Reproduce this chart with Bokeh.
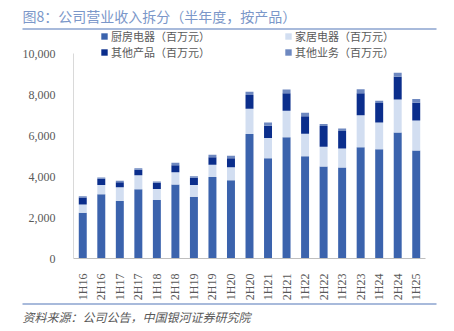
from bokeh.plotting import figure
from bokeh.models import (Range1d, NumeralTickFormatter, Label, Legend,
                          LegendItem, BoxAnnotation, FixedTicker)
from bokeh.embed import file_html
from bokeh.resources import INLINE
import math

periods = ["1H16", "2H16", "1H17", "2H17", "1H18", "2H18", "1H19", "2H19", "1H20", "2H20",
           "1H21", "2H21", "1H22", "2H22", "1H23", "2H23", "1H24", "2H24", "1H25"]
kitchen = [2230, 3140, 2800, 3380, 2850, 3610, 3010, 3970, 3820, 6070,
           4890, 5920, 4990, 4490, 4440, 5430, 5335, 6150, 5270]
home = [405, 440, 680, 685, 535, 600, 570, 600, 635, 1230,
        990, 1285, 1090, 960, 930, 1560, 1300, 1610, 1465]
other_products = [340, 310, 245, 260, 310, 340, 355, 375, 440, 670,
                  590, 860, 860, 1010, 845, 1075, 945, 1105, 860]
other_business = [60, 65, 65, 80, 65, 115, 80, 115, 115, 160,
                  160, 180, 165, 100, 130, 195, 115, 195, 180]
series_names = ["厨房电器（百万元）", "家居电器（百万元）", "其他产品（百万元）", "其他业务（百万元）"]
y_ticks = [0, 2000, 4000, 6000, 8000, 10000]
title_text = "图8：公司营业收入拆分（半年度，按产品）"
source_text = "资料来源：公司公告，中国银河证券研究院"

colors = ["#3b63ad", "#d2def1", "#0b2e8c", "#6e88c0"]
keys = ["kitchen", "home", "other_products", "other_business"]
idx = list(range(len(periods)))
data = dict(x=idx, kitchen=kitchen, home=home,
            other_products=other_products, other_business=other_business)

CJK = "Noto Sans CJK SC"
SERIF = "Liberation Serif"

W, H = 454, 331
# plot area in canvas pixels
FL, FR, FT, FB = 73, 425, 53, 258
n = len(periods)
step = (FR - FL) / n
xs = -0.5 - FL / step
xe = n - 0.5 + (W - FR) / step
vpp = 10000 / (FB - FT)
ys = -(H - FB) * vpp
ye = FB * vpp

def cx(px):
    return xs + px / W * (xe - xs)

def cy(py):
    return ye - py / H * (ye - ys)

p = figure(width=W, height=H, x_range=Range1d(xs, xe), y_range=Range1d(ys, ye),
           output_backend="svg", toolbar_location=None,
           min_border=0, min_border_left=0, min_border_right=0,
           min_border_top=0, min_border_bottom=0)
p.outline_line_color = None
p.xgrid.grid_line_color = None
p.ygrid.grid_line_color = None

rs = p.vbar_stack(keys, x="x", width=0.43, source=data, color=colors, line_color=None)

p.yaxis.fixed_location = -0.5
p.yaxis.bounds = (0, 10000)
p.yaxis.ticker = FixedTicker(ticks=y_ticks)
p.yaxis.formatter = NumeralTickFormatter(format="0,0")
p.yaxis.major_tick_line_color = None
p.yaxis.minor_tick_line_color = None
p.yaxis.axis_line_color = "#d9d9d9"
p.yaxis.major_label_text_font = SERIF
p.yaxis.major_label_text_font_size = "12px"
p.yaxis.major_label_text_color = "#595959"
p.yaxis.major_label_standoff = 12

p.xaxis.fixed_location = 0
p.xaxis.bounds = (-0.5, n - 0.5)
p.xaxis.ticker = FixedTicker(ticks=idx)
p.xaxis.major_label_overrides = {i: lab for i, lab in zip(idx, periods)}
p.xaxis.major_tick_line_color = None
p.xaxis.minor_tick_line_color = None
p.xaxis.axis_line_color = "#bfbfbf"
p.xaxis.major_label_orientation = math.pi / 2
p.xaxis.major_label_text_font = SERIF
p.xaxis.major_label_text_font_size = "12px"
p.xaxis.major_label_text_color = "#595959"
p.xaxis.major_label_standoff = 9

def make_legend(items, loc):
    lg = Legend(items=items, location=loc, orientation="vertical",
                label_text_font=CJK, label_text_font_size="11px", label_text_color="#595959",
                glyph_width=8, glyph_height=8, label_height=14, label_standoff=3,
                spacing=0, padding=0, margin=0, border_line_color=None,
                background_fill_alpha=0)
    p.add_layout(lg, "center")

make_legend([LegendItem(label=series_names[0], renderers=[rs[0]]),
             LegendItem(label=series_names[2], renderers=[rs[2]])], (100, H - 60))
make_legend([LegendItem(label=series_names[1], renderers=[rs[1]]),
             LegendItem(label=series_names[3], renderers=[rs[3]])], (284, H - 60))

p.add_layout(Label(x=cx(22), y=cy(15), text=title_text, text_font=CJK,
                   text_font_size="14px", text_color="#7b97c9", text_baseline="middle"))
p.add_layout(Label(x=cx(22), y=cy(316), text=source_text, text_font=CJK,
                   text_font_size="12px", text_font_style="italic", text_color="#595959",
                   text_baseline="middle"))
for yy in (28.5, 303.5):
    p.add_layout(BoxAnnotation(left=cx(22), right=cx(436), top=cy(yy - 1), bottom=cy(yy + 1),
                               fill_color="#a8badb", fill_alpha=1, line_color=None))

open("out.html", "w").write(file_html(p, INLINE))
